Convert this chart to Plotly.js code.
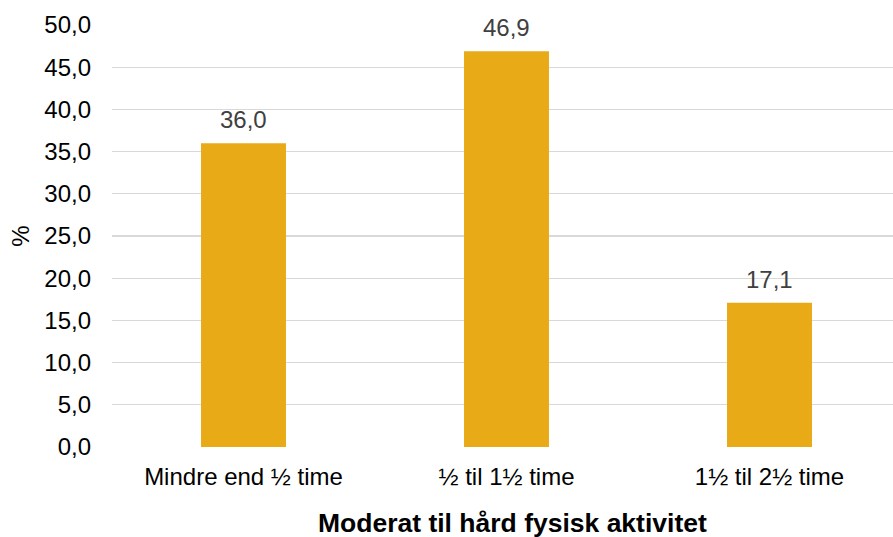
<!DOCTYPE html>
<html>
<head>
<meta charset="utf-8">
<script src="https://cdn.plot.ly/plotly-3.0.1.min.js"></script>
<style>html,body{margin:0;padding:0;background:#fff;}#chart{width:893px;height:537px;}</style>
</head>
<body>
<div id="chart"></div>
<script>
const categories = ["Mindre end ½ time", "½ til 1½ time", "1½ til 2½ time"];
const values = [36.0, 46.9, 17.1];
const yTickVals = [0, 5, 10, 15, 20, 25, 30, 35, 40, 45, 50];
const yTickText = ["0,0", "5,0", "10,0", "15,0", "20,0", "25,0", "30,0", "35,0", "40,0", "45,0", "50,0"];
const labels = values.map(v => v.toFixed(1).replace(".", ","));
const xTitle = "Moderat til hård fysisk aktivitet";

const font = "Liberation Sans, Arial, sans-serif";

const trace = {
  type: "bar",
  x: categories,
  y: values,
  width: 0.323,
  marker: {color: "#E8AA17"},
  hoverinfo: "none"
};

const annotations = categories.map((c, i) => ({
  x: c, y: values[i], xref: "x", yref: "y",
  text: labels[i], showarrow: false,
  yanchor: "bottom", yshift: 8,
  font: {family: font, size: 24, color: "#404040"}
}));
annotations.push({
  x: 0.5134, y: 0, xref: "paper", yref: "paper",
  xanchor: "center", yanchor: "top", yshift: -59,
  text: "<b>" + xTitle + "</b>", showarrow: false,
  font: {family: font, size: 26.5, color: "#000"}
});

const layout = {
  width: 893, height: 537,
  margin: {l: 112, r: 0, t: 25, b: 90},
  paper_bgcolor: "#fff", plot_bgcolor: "#fff",
  showlegend: false,
  font: {family: font, size: 24, color: "#000"},
  xaxis: {
    type: "category",
    range: [-0.5, 2.4696],
    showgrid: false, zeroline: false, showline: false,
    ticks: "", ticklabelstandoff: 13,
    tickfont: {family: font, size: 24, color: "#000"}
  },
  yaxis: {
    range: [0, 50],
    tickvals: yTickVals, ticktext: yTickText,
    showgrid: true, gridcolor: "#D9D9D9", gridwidth: 1.3,
    zeroline: false, showline: false, ticks: "",
    ticklabelstandoff: 20,
    tickfont: {family: font, size: 24, color: "#000"},
    title: {text: "%", font: {family: font, size: 24, color: "#000"}, standoff: 7}
  },
  annotations: annotations
};

Plotly.newPlot("chart", [trace], layout, {displayModeBar: false, staticPlot: true});
</script>
</body>
</html>
